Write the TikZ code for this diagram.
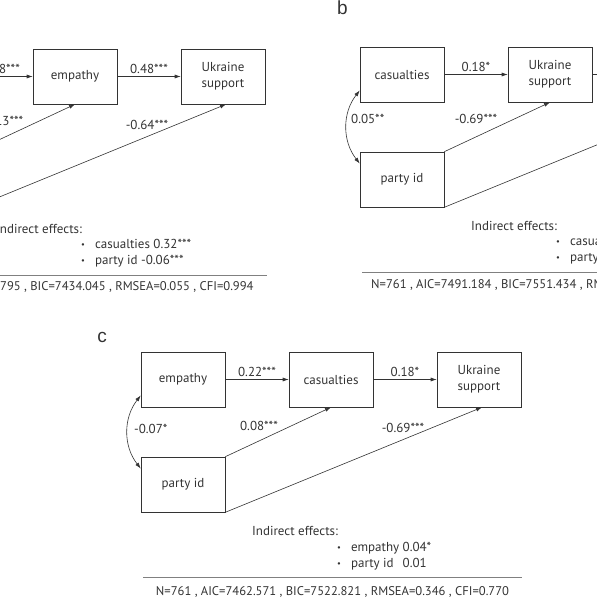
\documentclass[tikz,border=0pt]{standalone}
\usepackage{fontspec}
\setmainfont{PT Sans}
\newfontfamily\panelfont{Liberation Sans}
\usetikzlibrary{arrows.meta}

\tikzset{
  varbox/.style={draw, line width=0.6pt, minimum width=84pt, minimum height=55pt, inner sep=0pt, align=center},
  effect/.style={-{Latex[length=6pt,width=4pt]}, line width=0.6pt},
  covar/.style={{Latex[length=6pt,width=4pt]}-{Latex[length=6pt,width=4pt]}, line width=0.6pt, bend right=38},
  coef/.style={inner sep=2.5pt},
  fitline/.style={font=\fontsize{12.6}{15}\selectfont},
  panellabel/.style={font=\panelfont\fontsize{19}{19}\selectfont}
}
\newcommand{\smallbul}{\raisebox{1.2pt}{\scalebox{0.65}{\textbullet}}}

\begin{document}
\begin{tikzpicture}[x=1pt,y=-1pt,font=\fontsize{13}{16}\selectfont,color=black!80]

            \useasboundingbox (0,0) rectangle (597,597);
            \clip (0,0) rectangle (597,597);

            % panel a (cut on the left)
            \begin{scope}[shift={(-115,49)}]
            \node [varbox] (aCas) at (42,27.5) {casualties};
            \node [varbox] (aEmp) at (190,27.5) {empathy};
            \node [varbox] (aUkr) at (338,27.5) {Ukraine\\support};
            \node [varbox] (aParty) at (42,132.5) {party id};

            \draw[effect] (aCas) -- node [above,coef] {0.68***} (aEmp);
            \draw[effect] (aEmp) -- node [above,coef] {0.48***} (aUkr);
            \draw[effect] (aParty.north east) -- (aEmp.south);
            \draw[effect] (aParty.south east) -- ([xshift=3pt]aUkr.south);
            \draw[covar] ([yshift=-16pt]aCas.west) to ([yshift=16pt]aParty.west);

            \node [] (aCoefA) at (117,72) {-0.13***};
            \node [] (aCoefB) at (262,76) {-0.64***};

            % indirect effects and fit
            \node [anchor=west,inner sep=0pt] (aInd) at (111,180) {Indirect effects:};
            \node [anchor=west,inner sep=0pt] (aList) at (196,204) {\begin{tabular}{@{}l@{\hspace{10pt}}l@{}}
              \smallbul & casualties 0.32***\\
              \smallbul & party id -0.06***
            \end{tabular}};
            \draw[line width=0.6pt,black!50] (2,226) -- (382,226);
            \node [fitline] (aFit) at (192,238) {N=761 , AIC=7373.795 , BIC=7434.045 , RMSEA=0.055 , CFI=0.994};
            \end{scope}

            % panel b (cut on the right)
            \node [panellabel] (bLabel) at (342.5,8) {b};
            \begin{scope}[shift={(360,47)}]
            \node [varbox] (bCas) at (42,27.5) {casualties};
            \node [varbox] (bUkr) at (190,27.5) {Ukraine\\support};
            \node [varbox] (bEmp) at (338,27.5) {empathy};
            \node [varbox] (bParty) at (42,132.5) {party id};

            \draw[effect] (bCas) -- node [above,coef] {0.18*} (bUkr);
            \draw[effect] (bUkr) -- (bEmp);
            \draw[effect] (bParty.north east) -- (bUkr.south);
            \draw[effect] (bParty.south east) -- ([xshift=3pt]bEmp.south);
            \draw[covar] ([yshift=-16pt]bCas.west) to ([yshift=16pt]bParty.west);

            \node [anchor=west,inner sep=1pt] (bCoefC) at (-10,72) {0.05**};
            \node [] (bCoefA) at (116,72) {-0.69***};

            % indirect effects and fit
            \node [anchor=west,inner sep=0pt] (bInd) at (111,179) {Indirect effects:};
            \node [anchor=west,inner sep=0pt] (bList) at (196,203) {\begin{tabular}{@{}l@{\hspace{10pt}}l@{}}
              \smallbul & casualties\\
              \smallbul & party id
            \end{tabular}};
            \draw[line width=0.6pt,black!50] (2,225) -- (400,225);
            \node [fitline,anchor=west,inner sep=0pt] (bFit) at (11,238) {N=761 , AIC=7491.184 , BIC=7551.434 , RMSEA};
            \end{scope}

            % panel c
            \node [panellabel] (cLabel) at (102,337) {c};
            \begin{scope}[shift={(141,352)}]
            \node [varbox] (cEmp) at (42,27.5) {empathy};
            \node [varbox] (cCas) at (190,27.5) {casualties};
            \node [varbox] (cUkr) at (338,27.5) {Ukraine\\support};
            \node [varbox] (cParty) at (42,132.5) {party id};

            \draw[effect] (cEmp) -- node [above,coef] {0.22***} (cCas);
            \draw[effect] (cCas) -- node [above,coef] {0.18*} (cUkr);
            \draw[effect] (cParty.north east) -- (cCas.south);
            \draw[effect] (cParty.south east) -- ([xshift=3pt]cUkr.south);
            \draw[covar] ([yshift=-16pt]cEmp.west) to ([yshift=16pt]cParty.west);

            \node [anchor=west,inner sep=1pt] (cCoefC) at (-8,77) {-0.07*};
            \node [] (cCoefA) at (118,74) {0.08***};
            \node [] (cCoefB) at (262,76) {-0.69***};

            % indirect effects and fit
            \node [anchor=west,inner sep=0pt] (cInd) at (111,179) {Indirect effects:};
            \node [anchor=west,inner sep=0pt] (cList) at (196,204) {\begin{tabular}{@{}l@{\hspace{10pt}}l@{ }l@{}}
              \smallbul & empathy & 0.04*\\
              \smallbul & party id & 0.01
            \end{tabular}};
            \draw[line width=0.6pt,black!50] (2,225) -- (381,225);
            \node [fitline] (cFit) at (191.5,240) {N=761 , AIC=7462.571 , BIC=7522.821 , RMSEA=0.346 , CFI=0.770};
            \end{scope}

        \end{tikzpicture}
\end{document}
